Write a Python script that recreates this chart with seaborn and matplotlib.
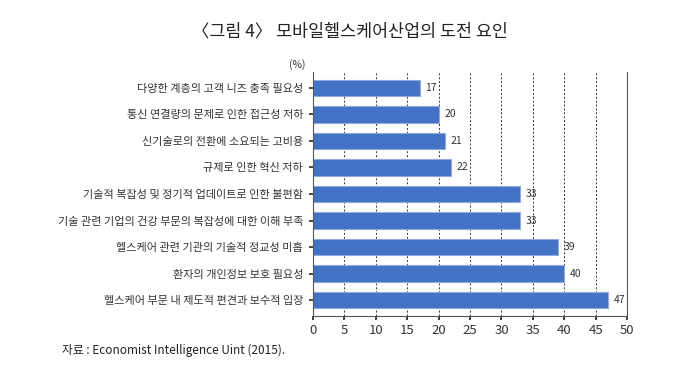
import matplotlib
matplotlib.use("Agg")
import matplotlib.pyplot as plt
import seaborn as sns
import pandas as pd

categories = [
    "다양한 계층의 고객 니즈 충족 필요성",
    "통신 연결량의 문제로 인한 접근성 저하",
    "신기술로의 전환에 소요되는 고비용",
    "규제로 인한 혁신 저하",
    "기술적 복잡성 및 정기적 업데이트로 인한 불편함",
    "기술 관련 기업의 건강 부문의 복잡성에 대한 이해 부족",
    "헬스케어 관련 기관의 기술적 정교성 미흡",
    "환자의 개인정보 보호 필요성",
    "헬스케어 부문 내 제도적 편견과 보수적 입장",
]
values = [17, 20, 21, 22, 33, 33, 39, 40, 47]
xticks = [0, 5, 10, 15, 20, 25, 30, 35, 40, 45, 50]

sns.set_theme(style="white")
plt.rcParams["font.family"] = ["Noto Sans CJK KR", "DejaVu Sans"]

df = pd.DataFrame({"cat": categories, "val": values})

fig = plt.figure(figsize=(7, 3.71), dpi=100)
ax = fig.add_axes([0.447, 0.148, 0.449, 0.658])

sns.barplot(data=df, x="val", y="cat", orient="h", color="#4472C4",
            width=0.62, edgecolor="#8FAADC", linewidth=0.8, ax=ax, saturation=1)

for i, v in enumerate(values):
    ax.text(v + 0.9, i, str(v), va="center", ha="left", fontsize=7.5, color="#333333")

ax.set_xlim(0, 50)
ax.set_xticks(xticks)
ax.set_xticklabels([str(t) for t in xticks], fontsize=9.5, color="#333333")
ax.set_ylim(8.6, -0.6)
ax.set_xlabel("")
ax.set_ylabel("")
ax.tick_params(axis="y", labelsize=8, colors="#333333", length=3, pad=4)
ax.tick_params(axis="x", length=3, pad=3, direction="out", bottom=True, left=True)
ax.tick_params(axis="y", left=True)

for t in xticks[1:-1]:
    ax.axvline(t, color="#333333", linestyle=(0, (2, 2)), linewidth=0.7, zorder=0)

ax.spines["top"].set_visible(False)
for s in ["left", "right", "bottom"]:
    ax.spines[s].set_color("#555555")
    ax.spines[s].set_linewidth(0.8)

fig.text(0.447 - 0.01, 0.81, "(%)", ha="right", va="bottom", fontsize=7.5, color="#333333")
fig.text(0.5, 0.915, "〈그림 4〉 모바일헬스케어산업의 도전 요인", ha="center", va="center",
         fontsize=12.5, color="#222222", fontweight="medium")
fig.text(0.088, 0.055, "자료 : Economist Intelligence Uint (2015).", ha="left", va="center",
         fontsize=8.5, color="#222222")

fig.savefig("out.png", dpi=100, facecolor="white")
